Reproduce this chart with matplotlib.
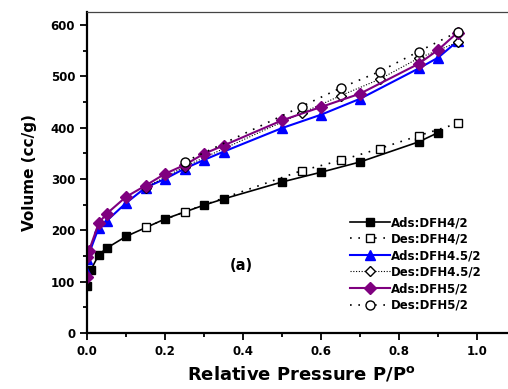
import matplotlib
matplotlib.use("Agg")
import matplotlib.pyplot as plt
from matplotlib.ticker import MultipleLocator

# adsorption / desorption isotherms
ads4_x = [0.0, 0.01, 0.03, 0.05, 0.1, 0.2, 0.3, 0.35, 0.5, 0.6, 0.7, 0.85, 0.9]
ads4_y = [92, 123, 152, 165, 188, 222, 249, 261, 294, 313, 333, 372, 390]
des4_x = [0.95, 0.85, 0.75, 0.65, 0.55, 0.25, 0.15]
des4_y = [408, 384, 359, 336, 316, 236, 206]

ads45_x = [0.0, 0.0, 0.03, 0.05, 0.1, 0.15, 0.2, 0.25, 0.3, 0.35, 0.5, 0.6, 0.7, 0.85, 0.9, 0.95]
ads45_y = [117, 144, 205, 218, 253, 283, 300, 320, 337, 353, 399, 425, 456, 515, 536, 568]
des45_x = [0.95, 0.85, 0.75, 0.65, 0.55, 0.25, 0.15]
des45_y = [566, 535, 494, 462, 428, 324, 283]

ads5_x = [0.0, 0.0, 0.005, 0.03, 0.05, 0.1, 0.15, 0.2, 0.25, 0.3, 0.35, 0.5, 0.6, 0.7, 0.85, 0.9, 0.95]
ads5_y = [109, 148, 160, 214, 232, 265, 287, 310, 327, 349, 365, 414, 440, 466, 524, 551, 585]
des5_x = [0.95, 0.85, 0.75, 0.65, 0.55, 0.25]
des5_y = [586, 548, 509, 477, 441, 333]

purple = "#7f007f"
blue = "#0000ff"

plt.rcParams['font.family'] = ['DejaVu Sans']
plt.rcParams['font.weight'] = 'bold'

fig = plt.figure(figsize=(5.08, 3.89), dpi=100)
ax = fig.add_axes([87/508, 56/389, 429/508, 321/389])

ax.plot(ads4_x, ads4_y, '-', color='black', lw=1.2, marker='s', ms=6,
        mfc='black', mec='black', label='Ads:DFH4/2')
ax.plot(des4_x, des4_y, color='black', lw=1.2, ls=(0, (1, 4)), marker='s', ms=6,
        mfc='white', mec='black', label='Des:DFH4/2')
ax.plot(ads45_x, ads45_y, '-', color=blue, lw=1.5, marker='^', ms=7.5,
        mfc=blue, mec=blue, label='Ads:DFH4.5/2')
ax.plot(des45_x, des45_y, color='black', lw=0.8, ls=(0, (1, 1.5)), marker='D', ms=5,
        mfc='white', mec='black', label='Des:DFH4.5/2')
ax.plot(ads5_x, ads5_y, '-', color=purple, lw=1.5, marker='D', ms=6,
        mfc=purple, mec=purple, label='Ads:DFH5/2')
ax.plot(des5_x, des5_y, color='black', lw=1.2, ls=(0, (1, 4)), marker='o', ms=6.5,
        mfc='white', mec='black', label='Des:DFH5/2')

ax.set_xlim(0, 1.1)
ax.set_ylim(0, 625)
ax.xaxis.set_major_locator(MultipleLocator(0.2))
ax.xaxis.set_minor_locator(MultipleLocator(0.1))
ax.yaxis.set_major_locator(MultipleLocator(100))
ax.yaxis.set_minor_locator(MultipleLocator(50))
ax.set_xticks([0.0, 0.2, 0.4, 0.6, 0.8, 1.0])
ax.set_xticklabels(['0.0', '0.2', '0.4', '0.6', '0.8', '1.0'])
ax.tick_params(which='both', direction='out', width=1.3, labelsize=8.5)
ax.tick_params(which='major', length=5)
ax.tick_params(which='minor', length=3)
ax.tick_params(top=False, right=False, which='both')

ax.spines['left'].set_linewidth(1.6)
ax.spines['bottom'].set_linewidth(1.6)
ax.spines['top'].set_linewidth(0.9)
ax.spines['top'].set_color('#444444')

ax.set_xlabel(r'Relative Pressure P/P$^{\mathbf{o}}$', fontsize=13, fontweight='bold', labelpad=5)
ax.set_ylabel('Volume (cc/g)', fontsize=11, fontweight='bold', labelpad=10)

ax.text(0.395, 132, '(a)', fontsize=10.5, fontweight='bold', ha='center', va='center')

leg = ax.legend(loc='upper left', bbox_to_anchor=(350/508, 1 - 216/389),
                bbox_transform=fig.transFigure, frameon=False, fontsize=8.5,
                handlelength=3.4, handletextpad=0.1, labelspacing=0.3,
                borderpad=0, borderaxespad=0)
for t in leg.get_texts():
    t.set_fontweight('bold')

fig.savefig('out.png', dpi=100)
